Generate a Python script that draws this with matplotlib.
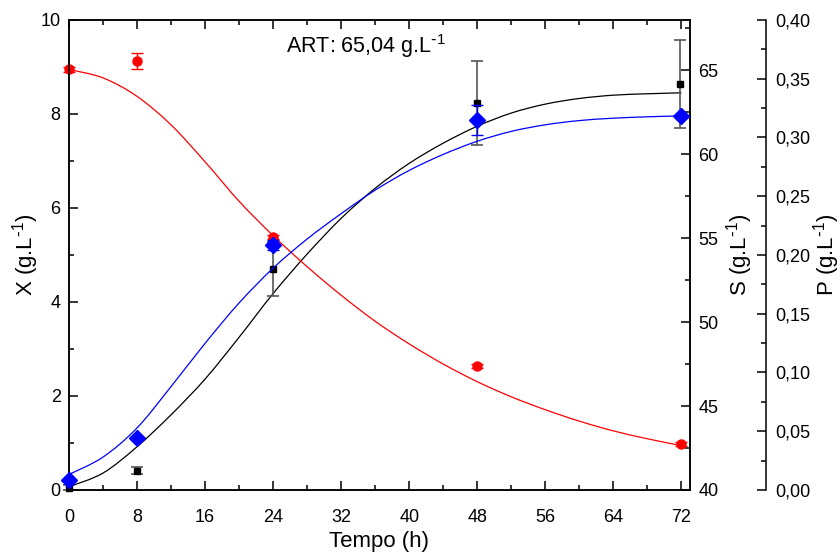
import matplotlib
matplotlib.use("Agg")
import matplotlib.pyplot as plt
from matplotlib.path import Path
from matplotlib.patches import PathPatch
from matplotlib.ticker import MultipleLocator, FuncFormatter

plt.rcParams.update({
    "font.family": ["Liberation Sans", "DejaVu Sans"],
    "font.size": 13,
    "axes.linewidth": 1.1,
})

# measured points
t_pts = [0, 8, 24, 48, 72]
t_x = [0, 8, 24, 48, 71.8]
x_pts = [0.05, 0.41, 4.70, 8.24, 8.64]
x_err = [0.05, 0.08, 0.57, 0.89, 0.93]
s_pts = [65.05, 65.55, 55.05, 47.4, 42.74]
s_err = [0.12, 0.5, 0.12, 0.12, 0.12]
p_pts = [0.0084, 0.044, 0.2084, 0.3148, 0.3184]
p_err = [0.0, 0.0, 0.004, 0.0128, 0.002]

# fitted model curves
t_fit = [0, 4, 8, 12, 16, 20, 24, 28, 32, 36, 40, 44, 48, 52, 56, 60, 64, 68, 72]
x_fit = [0.07, 0.36, 0.92, 1.6, 2.36, 3.25, 4.18, 5.02, 5.78, 6.42, 6.95, 7.38,
         7.74, 8.02, 8.21, 8.33, 8.40, 8.43, 8.45]
s_fit = [65.05, 64.55, 63.45, 61.75, 59.55, 57.2, 55.15, 53.3, 51.6, 50.05, 48.7, 47.5,
         46.45, 45.55, 44.78, 44.1, 43.52, 43.05, 42.64]
p_fit = [v * 0.04 for v in [0.33, 0.70, 1.32, 2.2, 3.12, 3.98, 4.72, 5.34, 5.88, 6.38,
                            6.80, 7.14, 7.42, 7.63, 7.77, 7.86, 7.91, 7.94, 7.96]]


def smooth_line(a, xs, ys, color):
    # draw the read-off curve as a smooth Bezier path through its points
    verts = [(xs[0], ys[0])]
    codes = [Path.MOVETO]
    n = len(xs)
    for i in range(n - 1):
        x0, y0 = xs[max(i - 1, 0)], ys[max(i - 1, 0)]
        x1, y1 = xs[i], ys[i]
        x2, y2 = xs[i + 1], ys[i + 1]
        x3, y3 = xs[min(i + 2, n - 1)], ys[min(i + 2, n - 1)]
        verts += [(x1 + (x2 - x0) / 6, y1 + (y2 - y0) / 6),
                  (x2 - (x3 - x1) / 6, y2 - (y3 - y1) / 6),
                  (x2, y2)]
        codes += [Path.CURVE4] * 3
    a.add_patch(PathPatch(Path(verts, codes), fill=False, edgecolor=color, lw=0.9))


comma = FuncFormatter(lambda v, pos: f"{v:.2f}".replace(".", ","))
unit = "(g.L$^{\\mathregular{\\text{-}1}}$)"

fig = plt.figure(figsize=(8.4, 5.58), dpi=100)
ax = fig.add_axes([0.0821, 0.1219, 0.7393, 0.8423])
axS = ax.twinx()
axP = ax.twinx()
axP.spines["right"].set_position(("axes", 1.122))
for side in ["left", "top", "bottom"]:
    axP.spines[side].set_visible(False)

# X (biomass)
smooth_line(ax, t_fit, x_fit, "black")
ax.errorbar(t_x, x_pts, yerr=x_err, fmt="s", color="black", ms=4.5,
            ecolor="#555555", elinewidth=1.2, capsize=4.5, capthick=1.2, clip_on=False)

# S (substrate)
smooth_line(axS, t_fit, s_fit, "red")
axS.errorbar(t_pts, s_pts, yerr=s_err, fmt="o", color="red", ms=6.5,
             ecolor="red", elinewidth=1.0, capsize=4, capthick=1.0, clip_on=False)

# P (product)
smooth_line(axP, t_fit, p_fit, "blue")
axP.errorbar(t_pts, p_pts, yerr=p_err, fmt="D", color="blue", ms=8,
             ecolor="blue", elinewidth=1.0, capsize=4, capthick=1.0, clip_on=False)

ax.set_xlim(0, 73)
ax.set_ylim(0, 10)
axS.set_ylim(40, 68)
axP.set_ylim(0, 0.40)

ax.xaxis.set_major_locator(MultipleLocator(8))
ax.xaxis.set_minor_locator(MultipleLocator(4))
ax.yaxis.set_major_locator(MultipleLocator(2))
ax.yaxis.set_minor_locator(MultipleLocator(1))
axS.yaxis.set_major_locator(MultipleLocator(5))
axS.yaxis.set_minor_locator(MultipleLocator(2.5))
axP.yaxis.set_major_locator(MultipleLocator(0.05))
axP.yaxis.set_minor_locator(MultipleLocator(0.025))
axP.yaxis.set_major_formatter(comma)

ax.tick_params(axis="x", which="both", direction="in", top=True, pad=14)
ax.tick_params(axis="y", which="both", direction="in", right=False, pad=6)
for a in (ax, axS, axP):
    a.tick_params(which="major", length=6.5, width=1.1)
    a.tick_params(which="minor", length=3.5, width=1.1)
axS.tick_params(axis="y", which="both", direction="in", pad=6)
axP.tick_params(axis="y", which="both", direction="in", pad=7)

ax.set_xlabel("Tempo (h)", fontsize=16, labelpad=3)
ax.set_ylabel("X " + unit, fontsize=16, labelpad=0)
axS.set_ylabel("S " + unit, fontsize=16, labelpad=4)
axP.set_ylabel("P " + unit, fontsize=16, labelpad=0)

ax.text(0.478, 0.945, "ART: 65,04 g.L$^{\\mathregular{\\text{-}1}}$", transform=ax.transAxes,
        ha="center", va="center", fontsize=15.5)

fig.savefig("out.png", dpi=100)
